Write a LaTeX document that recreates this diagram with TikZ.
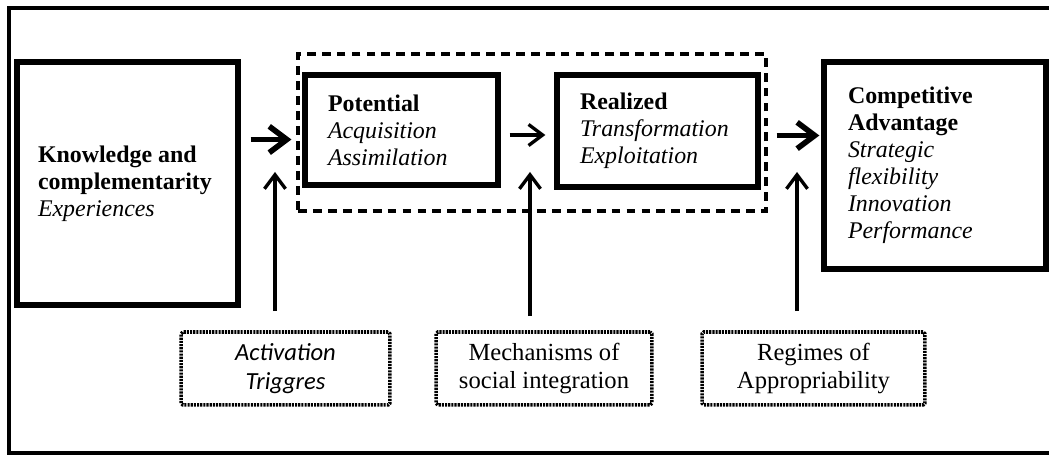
\documentclass[tikz,border=0pt]{standalone}
\usepackage{fontspec}
\setmainfont{Liberation Serif}
\newfontfamily\calfont{Carlito}
\usetikzlibrary{
  arrows.meta,
  positioning,
  calc
}
\tikzset{
  % Solid stage box: left aligned text, fixed size
  stage/.style={
    rectangle, draw=black, line width=3pt,
    align=flush left, inner ysep=0pt,
    font=\fontsize{13.6}{15.4}\selectfont
  },
  % Dashed group outline
  grp/.style={
    rectangle, draw=black, line width=1.8pt,
    dash pattern=on 5pt off 3.5pt
  },
  % Dotted factor box
  factor/.style={
    rectangle, draw=black, line width=2pt,
    dash pattern=on 1.2pt off 0.6pt, rounded corners=1pt,
    minimum height=1.46cm, align=center,
    font=\fontsize{14}{16.5}\selectfont
  },
  % Arrows
  bigarr/.style={-{Straight Barb[length=10pt,width=15pt]}, line width=3.2pt},
  arr/.style={-{Straight Barb[length=8pt,width=12pt]}, line width=1.9pt}
}
\begin{document}
\begin{tikzpicture}[x=0.02cm, y=-0.02cm]
  \useasboundingbox (0,0) rectangle (1049,455);
  % Outer frame, open on the right
  \draw[line width=2pt] (1070,8) -- (9,8) -- (9,453) -- (1070,453);

  % Capacity group
  \node[grp, minimum width=9.36cm, minimum height=3.14cm] (cap) at (532,132.5) {};

  % Main stages
  \node[stage, text width=3.58cm, inner xsep=0.42cm, minimum height=4.86cm] (know) at (127.5,183.5)
    {\textbf{Knowledge and}\\\textbf{complementarity}\\\textit{Experiences}};
  \node[stage, text width=2.94cm, inner xsep=0.46cm, minimum height=2.2cm] (pot) at (401.5,130)
    {\textbf{Potential}\\\textit{Acquisition}\\\textit{Assimilation}};
  \node[stage, text width=3.1cm, inner xsep=0.46cm, minimum height=2.24cm] (real) at (657.5,131)
    {\textbf{Realized}\\\textit{Transformation}\\\textit{Exploitation}};
  \node[stage, text width=3.48cm, inner xsep=0.48cm, minimum height=4.14cm] (comp) at (935,165.5)
    {\textbf{Competitive}\\\textbf{Advantage}\\\textit{Strategic}\\\textit{flexibility}\\\textit{Innovation}\\\textit{Performance}};

  % Moderating factors
  \node[factor, minimum width=4.18cm, font=\fontsize{14}{16.5}\selectfont\calfont\itshape] (trig) at (285.5,368.5)
    {Activation\\Triggres};
  \node[factor, minimum width=4.32cm] (mech) at (544,368.5) {Mechanisms of\\social integration};
  \node[factor, minimum width=4.46cm] (reg) at (813.5,368.5) {Regimes of\\Appropriability};

  % Arrow tips of the factors
  \coordinate (t1) at (275,172);
  \coordinate (t2) at (530,172);
  \coordinate (t3) at (797,172);

  % Flow
  \draw[bigarr, shorten <=0.2cm, shorten >=0.1cm]
    ($(know.east |- cap.west)+(0,7)$) -- ($(cap.west)+(0,7)$);
  \draw[arr, shorten <=0.18cm, shorten >=0.18cm]
    ($(pot.east)+(0,5)$) -- ($(real.west |- pot.east)+(0,5)$);
  \draw[bigarr, shorten <=0.18cm, shorten >=0.04cm]
    ($(cap.east)+(0,3)$) -- ($(comp.west |- cap.east)+(0,3)$);

  \draw[arr, shorten <=0.38cm] (trig.north -| t1) -- (t1);
  \draw[arr, shorten <=0.28cm] (mech.north -| t2) -- (t2);
  \draw[arr, shorten <=0.38cm] (reg.north -| t3) -- (t3);
\end{tikzpicture}
\end{document}
